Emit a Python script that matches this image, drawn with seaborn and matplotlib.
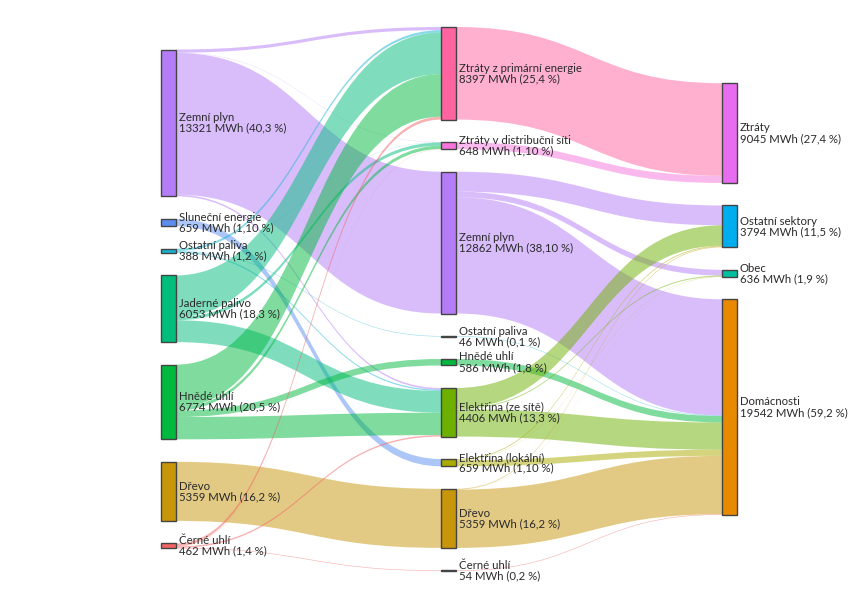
import matplotlib
matplotlib.use("Agg")
import matplotlib.pyplot as plt
import seaborn as sns
from matplotlib.path import Path
from matplotlib.patches import PathPatch, Rectangle

# ---------------- data ----------------
node_names = [
    "Zemní plyn", "Sluneční energie", "Ostatní paliva", "Jaderné palivo",
    "Hnědé uhlí", "Dřevo", "Černé uhlí",
    "Ztráty z primární energie", "Ztráty v distribuční síti", "Zemní plyn",
    "Ostatní paliva", "Hnědé uhlí", "Elektřina (ze sítě)", "Elektřina (lokální)",
    "Dřevo", "Černé uhlí",
    "Ztráty", "Ostatní sektory", "Obec", "Domácnosti",
]
node_value_text = [
    "13321 MWh (40,3 %)", "659 MWh (1,10 %)", "388 MWh (1,2 %)", "6053 MWh (18,3 %)",
    "6774 MWh (20,5 %)", "5359 MWh (16,2 %)", "462 MWh (1,4 %)",
    "8397 MWh (25,4 %)", "648 MWh (1,10 %)", "12862 MWh (38,10 %)",
    "46 MWh (0,1 %)", "586 MWh (1,8 %)", "4406 MWh (13,3 %)", "659 MWh (1,10 %)",
    "5359 MWh (16,2 %)", "54 MWh (0,2 %)",
    "9045 MWh (27,4 %)", "3794 MWh (11,5 %)", "636 MWh (1,9 %)", "19542 MWh (59,2 %)",
]
node_column = [0] * 7 + [1] * 9 + [2] * 4
node_colors = [
    "#b57cf8", "#5b8ef0", "#16b5d3", "#00bd7c", "#00b93e", "#c8960a", "#f06464",
    "#ff63a0", "#f774dc", "#b57cf8", "#16b5d3", "#00b93e", "#6db000", "#aaaa00",
    "#c8960a", "#f06464",
    "#e86cf0", "#00aef0", "#00bfa0", "#e88a00",
]

link_source = [0, 0, 0, 0,
               1,
               2, 2, 2, 2,
               3, 3, 3,
               4, 4, 4, 4,
               5,
               6, 6, 6, 6,
               7, 8,
               9, 9, 9,
               10, 11,
               12, 12, 12,
               13, 13, 13,
               14, 14, 14,
               15]
link_target = [7, 8, 9, 12,
               13,
               7, 8, 10, 12,
               7, 8, 12,
               7, 8, 11, 12,
               14,
               7, 8, 12, 15,
               16, 16,
               17, 18, 19,
               19, 19,
               17, 18, 19,
               17, 18, 19,
               17, 18, 19,
               19]
link_value = [287, 22, 12862, 150,
              659,
              213, 16, 46, 113,
              3779, 292, 1982,
              3863, 298, 586, 2027,
              5359,
              255, 20, 133, 54,
              8397, 648,
              1800, 520, 10542,
              46, 586,
              1850, 86, 2469,
              84, 20, 555,
              60, 10, 5289,
              54]

# ---------------- layout ----------------
W, H = 864, 598
top, bottom = 27, 571
col_x = [161, 441, 722]
node_w = 15
pad = 22.5
n = len(node_names)

vin = [0.0] * n
vout = [0.0] * n
for s, t, v in zip(link_source, link_target, link_value):
    vout[s] += v
    vin[t] += v
node_val = [max(a, b) for a, b in zip(vin, vout)]

cols = {c: [i for i in range(n) if node_column[i] == c] for c in range(3)}
avail = bottom - top
ky = min((avail - (len(ids) - 1) * pad) / sum(node_val[i] for i in ids) for ids in cols.values())
center = (top + bottom) / 2
y0 = [0.0] * n
y1 = [0.0] * n
for c, ids in cols.items():
    tot = sum(node_val[i] for i in ids) * ky + (len(ids) - 1) * pad
    y = center - tot / 2
    for i in ids:
        y0[i] = y
        y1[i] = y + node_val[i] * ky
        y += node_val[i] * ky + pad

# link offsets
links = list(range(len(link_value)))
src_off = {}
tgt_off = {}
for i in range(n):
    outs = sorted([l for l in links if link_source[l] == i], key=lambda l: y0[link_target[l]])
    y = y0[i]
    for l in outs:
        src_off[l] = y
        y += link_value[l] * ky
    ins = sorted([l for l in links if link_target[l] == i], key=lambda l: y0[link_source[l]])
    y = y0[i]
    for l in ins:
        tgt_off[l] = y
        y += link_value[l] * ky

# ---------------- draw ----------------
sns.set_theme(style="white")
plt.rcParams['font.family'] = ['Lato', 'DejaVu Sans']
fig = plt.figure(figsize=(W / 100, H / 100), dpi=100)
ax = fig.add_axes([0, 0, 1, 1])
ax.set_xlim(0, W)
ax.set_ylim(H, 0)
ax.axis("off")

for l in links:
    s, t = link_source[l], link_target[l]
    xa = col_x[node_column[s]] + node_w
    xb = col_x[node_column[t]]
    xm = (xa + xb) / 2
    h = link_value[l] * ky
    sa, ta = src_off[l], tgt_off[l]
    verts = [(xa, sa), (xm, sa), (xm, ta), (xb, ta),
             (xb, ta + h),
             (xm, ta + h), (xm, sa + h), (xa, sa + h),
             (xa, sa)]
    codes = [Path.MOVETO, Path.CURVE4, Path.CURVE4, Path.CURVE4,
             Path.LINETO,
             Path.CURVE4, Path.CURVE4, Path.CURVE4,
             Path.CLOSEPOLY]
    ax.add_patch(PathPatch(Path(verts, codes), facecolor=node_colors[s], alpha=0.5,
                           edgecolor="none", zorder=1))

for i in range(n):
    x = col_x[node_column[i]]
    ax.add_patch(Rectangle((x, y0[i]), node_w, max(y1[i] - y0[i], 0.5),
                           facecolor=node_colors[i], edgecolor="#444444",
                           linewidth=1.0, zorder=3))
    ax.text(x + node_w + 3, (y0[i] + y1[i]) / 2,
            node_names[i] + "\n" + node_value_text[i],
            fontsize=8.2, color="#2a2a2a", va="center", ha="left",
            linespacing=0.95, zorder=4)

fig.savefig("out.png", dpi=100, facecolor="white")
